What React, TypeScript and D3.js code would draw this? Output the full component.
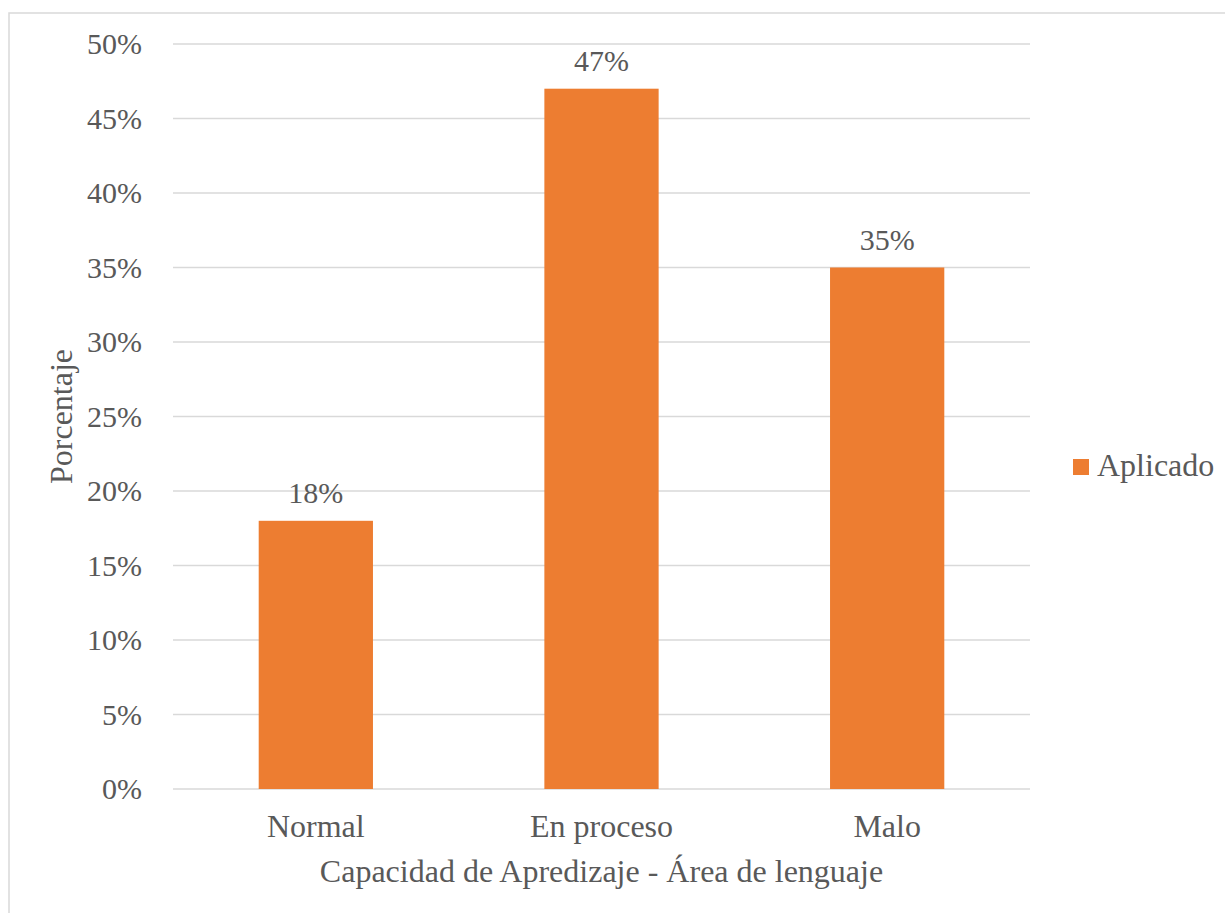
import React from "react";
import * as d3 from "d3";

const categories = ["Normal", "En proceso", "Malo"];
const values = [0.18, 0.47, 0.35];
const yTicks = [0, 0.05, 0.1, 0.15, 0.2, 0.25, 0.3, 0.35, 0.4, 0.45, 0.5];
const seriesName = "Aplicado";
const xTitle = "Capacidad de Apredizaje - Área de lenguaje";
const yTitle = "Porcentaje";

const W = 1225;
const H = 913;
const plot = { left: 173, right: 1030, top: 44, bottom: 789 };
const font = "'Liberation Serif', 'Times New Roman', serif";
const textColor = "#595959";
const barColor = "#ED7D31";
const gridColor = "#D9D9D9";
const numSize = 30;
const wordSize = 32;

export default function App() {
  const y = d3.scaleLinear().domain([0, 0.5]).range([plot.bottom, plot.top]);
  const x = d3
    .scaleBand<string>()
    .domain(categories)
    .range([plot.left, plot.right])
    .paddingInner(0.6)
    .paddingOuter(0.3);
  const fmt = d3.format(".0%");
  const plotCx = (plot.left + plot.right) / 2;
  const plotCy = (plot.top + plot.bottom) / 2;

  return (
    <div style={{ position: "absolute", left: 0, top: 0 }}>
      <svg width={W} height={H} style={{ display: "block", fontFamily: font }}>
        <rect x={0} y={0} width={W} height={H} fill="#ffffff" />
        <rect x={9} y={13} width={W + 20} height={H + 20} fill="none" stroke={gridColor} strokeWidth={1.5} />
        {yTicks.map((t) => (
          <g key={t}>
            <line x1={plot.left} x2={plot.right} y1={y(t)} y2={y(t)} stroke={gridColor} strokeWidth={1.5} />
            <text x={142} y={y(t) + 10.3} textAnchor="end" fontSize={numSize} fill={textColor}>
              {fmt(t)}
            </text>
          </g>
        ))}
        {categories.map((c, i) => (
          <g key={c}>
            <rect x={x(c)} y={y(values[i])} width={x.bandwidth()} height={y(0) - y(values[i])} fill={barColor} />
            <text x={(x(c) as number) + x.bandwidth() / 2} y={y(values[i]) - 18} textAnchor="middle" fontSize={numSize} fill={textColor}>
              {fmt(values[i])}
            </text>
            <text x={(x(c) as number) + x.bandwidth() / 2} y={837} textAnchor="middle" fontSize={wordSize} fill={textColor}>
              {c}
            </text>
          </g>
        ))}
        <text x={plotCx} y={882} textAnchor="middle" fontSize={wordSize} fill={textColor}>
          {xTitle}
        </text>
        <text transform={`translate(${72},${plotCy}) rotate(-90)`} textAnchor="middle" fontSize={wordSize} fill={textColor}>
          {yTitle}
        </text>
        <rect x={1073} y={459} width={16} height={16} fill={barColor} />
        <text x={1097} y={476} fontSize={wordSize} fill={textColor}>
          {seriesName}
        </text>
      </svg>
    </div>
  );
}
